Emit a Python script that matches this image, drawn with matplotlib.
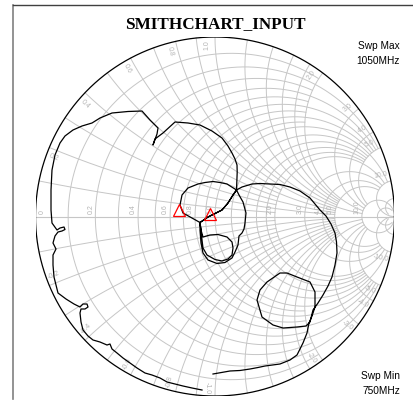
import numpy as np
import matplotlib
matplotlib.use("Agg")
import matplotlib.pyplot as plt
from matplotlib.lines import Line2D

# ---------------- data (reflection coefficient) -------------
trace_re = [-0.0111, 0.0836, 0.1393, 0.1950, 0.2396, 0.2786, 0.3621, 0.4178, 0.4568, 0.4902, 0.5125, 0.5237,
            0.5404, 0.5571, 0.5571, 0.5292, 0.4568, 0.4011, 0.3621, 0.2897, 0.2507, 0.2340, 0.2618, 0.3231,
            0.3788, 0.4568, 0.5070, 0.5292,
            0.5460, 0.5738, 0.6017, 0.6295, 0.6518, 0.6685, 0.6797, 0.6769, 0.6685, 0.6462, 0.6184, 0.5850,
            0.5292, 0.4735, 0.4178, 0.3621, 0.3064, 0.2507, 0.2061, 0.1504, 0.1198,
            0.0669, 0.0279, -0.0111, -0.0557, -0.0947, -0.1504, -0.1838, -0.1950, -0.1783, -0.1281, -0.0836,
            -0.0836, -0.0780, -0.0669, -0.0390, 0.0111, 0.0557, 0.0947, 0.1114, 0.1281, 0.1337, 0.1504, 0.1616,
            0.1671, 0.1727, 0.1560, 0.1337, 0.1198,
            0.1003, 0.0724, 0.0390, 0.0000, -0.0390, -0.0669, -0.0836,
            -0.0780, -0.0669, -0.0279, 0.0167, 0.0669, 0.0947, 0.1003, 0.0947, 0.0724, 0.0390, 0.0000, -0.0446,
            -0.0669, -0.0724, -0.0780, -0.0836,
            -0.0669, -0.0390, 0.0000, 0.0390, 0.0724, 0.1003, 0.1198,
            0.1214, 0.1237, 0.1226, 0.1114, 0.0947, 0.0724, 0.0390, -0.0167, -0.0836, -0.1504, -0.2228,
            -0.2897, -0.3343, -0.3454, -0.3231, -0.3175, -0.3621, -0.4067, -0.4847, -0.5738, -0.6407, -0.6852,
            -0.7409, -0.7911, -0.8357, -0.8635, -0.8914, -0.9081, -0.9136, -0.9136, -0.9081, -0.8802,
            -0.8635, -0.8412, -0.8357, -0.8524, -0.8747,
            -0.8914, -0.9025, -0.8858, -0.9025, -0.9025, -0.8969, -0.8747, -0.8301, -0.7855, -0.7521,
            -0.7354, -0.7131, -0.7075, -0.7242, -0.7465,
            -0.7521, -0.7465, -0.7354, -0.7075, -0.6797, -0.6407, -0.6017, -0.5850, -0.5738, -0.5460, -0.5125,
            -0.4735, -0.4345, -0.3900, -0.3510, -0.3064, -0.2674, -0.2228, -0.1783, -0.1281, -0.0724]
trace_im = [-0.8774, -0.8607, -0.8579, -0.8496, -0.8412, -0.8329, -0.8217, -0.7994, -0.7716, -0.7047, -0.6490, -0.5933,
            -0.5543, -0.5042, -0.4206, -0.3649, -0.3370, -0.3148, -0.3148, -0.3649, -0.4095, -0.4652, -0.5599, -0.6044,
            -0.6212, -0.6156, -0.6100, -0.5877,
            -0.5209, -0.4819, -0.4373, -0.3872, -0.3370, -0.2702, -0.2033, -0.1421, -0.0919, -0.0418, 0.0028, 0.0362,
            0.1031, 0.1421, 0.1643, 0.1783, 0.1811, 0.1838, 0.1811, 0.1643, 0.1476,
            0.1811, 0.1894, 0.1950, 0.1894, 0.1811, 0.1588, 0.1198, 0.0641, 0.0195, -0.0084, -0.0334,
            -0.0752, -0.1476, -0.2033, -0.2423, -0.2618, -0.2563, -0.2312, -0.1978, -0.1588, -0.1086, -0.0919, -0.0696,
            -0.0362, 0.0195, 0.0808, 0.1198, 0.1476,
            0.1198, 0.0752, 0.0362, 0.0167, -0.0028, -0.0223, -0.0334,
            -0.0752, -0.1142, -0.1031, -0.1003, -0.1142, -0.1421, -0.1755, -0.2145, -0.2368, -0.2479, -0.2396, -0.2145,
            -0.1755, -0.1309, -0.0752, -0.0334,
            -0.0223, -0.0028, 0.0167, 0.0362, 0.0752, 0.1198, 0.1476,
            0.1866, 0.2479, 0.2869, 0.3203, 0.3538, 0.3927, 0.4373, 0.4763, 0.5097, 0.5209, 0.5265,
            0.4652, 0.4318, 0.3983, 0.4596, 0.4930, 0.5376, 0.5877, 0.5850, 0.5766, 0.5487, 0.5209,
            0.5042, 0.4819, 0.4485, 0.4095, 0.3426, 0.2591, 0.1476, 0.0362, -0.0362, -0.0752,
            -0.0641, -0.0585, -0.0724, -0.0808, -0.0864,
            -0.1086, -0.1476, -0.1811, -0.2145, -0.2702, -0.3370, -0.4262, -0.4596, -0.4875, -0.5042,
            -0.4875, -0.4875, -0.5042, -0.5153, -0.5153,
            -0.5376, -0.5877, -0.6323, -0.6657, -0.6880, -0.6992, -0.7159, -0.7103, -0.7382, -0.7604, -0.7883,
            -0.8162, -0.8440, -0.8719, -0.8830, -0.8997, -0.9220, -0.9331, -0.9443, -0.9554, -0.9666]

marker_re = [-0.2017, -0.0262]
marker_im = [0.0362, 0.0139]

# grid values: (value, trim limit of the other coordinate)
r_grid = [0.1, 0.3, 0.5, 0.7, 0.9, 0.2, 0.4, 0.6, 0.8, 1.0, 1.2, 1.4, 1.6, 1.8, 2.0, 3.0, 4.0, 5.0, 10.0, 20.0]
r_trim = [2, 2, 2, 2, 2, 5, 5, 5, 5, 10, 5, 5, 5, 5, 10, 10, 10, 10, 1e5, 50]
x_grid = [0.1, 0.3, 0.5, 0.7, 0.9, 0.2, 0.4, 0.6, 0.8, 1.0, 1.2, 1.4, 1.6, 1.8, 2.0, 3.0, 4.0, 5.0, 10.0, 20.0]
x_trim = [2, 2, 2, 2, 2, 5, 5, 5, 5, 10, 5, 5, 5, 5, 10, 10, 10, 10, 1e5, 50]
r_labels = [0.2, 0.4, 0.6, 0.8, 1.0, 2.0, 3.0, 4.0, 5.0, 10.0]
x_labels = [0.2, 0.4, 0.6, 0.8, 1.0, 2.0, 3.0, 4.0, 5.0, 10.0]

title = "SMITHCHART_INPUT"
swp_max = ["Swp Max", "1050MHz"]
swp_min = ["Swp Min", "750MHz"]

# ---------------- drawing ----------------
W, H = 414, 403
cx, cy, R = 215.0, 216.5, 179.5
fig = plt.figure(figsize=(W / 100, H / 100), dpi=100)
fig.patch.set_facecolor("white")
ax = fig.add_axes([(cx - R) / W, (H - cy - R) / H, 2 * R / W, 2 * R / H])
ax.set_xlim(-1, 1)
ax.set_ylim(-1, 1)
ax.axis("off")

grid_col = "#c6c6c6"
lab_col = "#b4b4b4"


def gam(z):
    return (z - 1) / (z + 1)


for r, lim in zip(r_grid, r_trim):
    t = np.linspace(-np.arctan(lim), np.arctan(lim), 600)
    g = gam(r + 1j * np.tan(t))
    ax.plot(g.real, g.imag, color=grid_col, lw=0.7, zorder=1)

for xv, lim in zip(x_grid, x_trim):
    t = np.linspace(0, np.arctan(lim), 600)
    for s in (1, -1):
        g = gam(np.tan(t) + 1j * s * xv)
        ax.plot(g.real, g.imag, color=grid_col, lw=0.7, zorder=1)

ax.plot([-1, 1], [0, 0], color=grid_col, lw=0.8, zorder=1)

th = np.linspace(0, 2 * np.pi, 721)
ax.plot(np.cos(th), np.sin(th), color="black", lw=0.9, zorder=3)

lab_font = dict(family="Liberation Sans", size=5, color=lab_col)
ax.text(-1 + 0.02, 0.012, "0", rotation=90, ha="left", va="bottom", **lab_font)
for r in r_labels:
    gx = (r - 1) / (r + 1)
    ax.text(gx - 0.006, 0.012, f"{r:.1f}", rotation=90, ha="right", va="bottom", **lab_font)

for xv in x_labels:
    for s in (1, -1):
        g = gam(1j * s * xv)
        ang = np.angle(g)
        a2 = ang + s * np.deg2rad(2.6)
        rr = 0.955
        rot = np.rad2deg(ang)
        if abs(rot) > 90:
            rot = rot - 180 * np.sign(rot)
        txt = f"{xv:.1f}" if s > 0 else f"-{xv:.1f}"
        ax.text(rr * np.cos(a2), rr * np.sin(a2), txt, rotation=rot, ha="center", va="center",
                rotation_mode="anchor", **lab_font)

ax.plot(trace_re, trace_im, color="black", lw=0.9, zorder=4, solid_joinstyle="round")
ax.plot(marker_re, marker_im, linestyle="none", marker="^", ms=8, mfc="none", mec="red", mew=0.9, zorder=5)

# frame & texts
fig.add_artist(Line2D([13.5 / W, 13.5 / W], [1 - 5 / H, 1 - 399 / H], color="#808080", lw=1.2))
fig.add_artist(Line2D([13.5 / W, 1.0], [1 - 5 / H, 1 - 5 / H], color="#404040", lw=1.0))
fig.text(215 / W, 1 - 24 / H, title, ha="center", va="center", family="Liberation Serif",
         weight="bold", size=12.3)
fig.text(400 / W, 1 - 46 / H, swp_max[0], ha="right", va="center", family="Liberation Sans", size=7.3)
fig.text(400 / W, 1 - 61 / H, swp_max[1], ha="right", va="center", family="Liberation Sans", size=7.3)
fig.text(400 / W, 1 - 376 / H, swp_min[0], ha="right", va="center", family="Liberation Sans", size=7.3)
fig.text(400 / W, 1 - 391 / H, swp_min[1], ha="right", va="center", family="Liberation Sans", size=7.3)

fig.savefig("out.png", dpi=100, facecolor="white")
